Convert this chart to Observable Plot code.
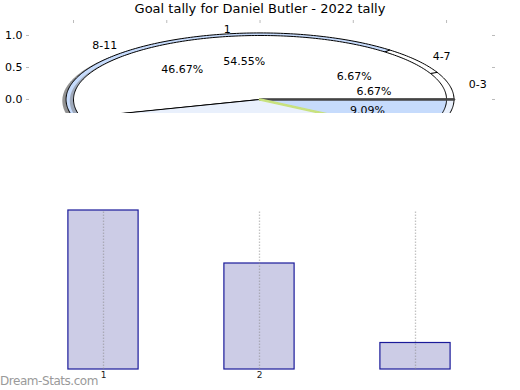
<!DOCTYPE html>
<html>
<head>
<meta charset="utf-8">
<script src="https://cdn.jsdelivr.net/npm/d3@7"></script>
<script src="https://cdn.jsdelivr.net/npm/@observablehq/plot@0.6"></script>
<style>
  body { margin: 0; background: #fff; font-family: "DejaVu Sans", sans-serif; }
  #wrap { position: relative; width: 520px; height: 390px; overflow: hidden; }
  #title { position: absolute; top: 1px; left: 0; width: 520px; text-align: center; font-size: 13px; color: #000; }
  #top { position: absolute; left: 0; top: 0; }
  #bottom { position: absolute; left: 0; top: 190px; }
  #mark { position: absolute; left: 0; top: 374px; font-size: 12px; color: #9a9a9a; letter-spacing: -0.45px; }
</style>
</head>
<body>
<div id="wrap">
  <div id="top"></div>
  <div id="bottom"></div>
  <div id="title">Goal tally for Daniel Butler - 2022 tally</div>
  <div id="mark">Dream-Stats.com</div>
</div>
<script>
// ---- data ----
const titleText = "Goal tally for Daniel Butler - 2022 tally";
// pie A: goals per game
const pieALabels = ["1", "2", "3"];
const pieAValues = [6, 4, 1];
const pieAFills = ["#ffffff", "#e9f0fc", "#c6dbfc"];
// pie B: goals by minute band
const pieBLabels = ["0-3", "4-7", "8-11", "12+"];
const pieBValues = [1, 1, 7, 6];
const pieBFills = ["#ffffff", "#ffffff", "#c6dbfc", "#e9f0fc"];
// bars
const barX = [1, 2, 3];
const barValues = [6, 4, 1];
const barTickLabels = [1, 2];

// ---- pie geometry from values ----
function wedges(values, labels, fills, r, ox = 0, oy = 0) {
  const total = d3.sum(values);
  let a = 0;
  return values.map((v, i) => {
    const a0 = a, a1 = a + (v / total) * 360;
    a = a1;
    const pts = [{x: ox, y: oy}];
    const n = Math.max(2, Math.ceil(a1 - a0));
    for (let k = 0; k <= n; k++) {
      const t = (a0 + (a1 - a0) * k / n) * Math.PI / 180;
      pts.push({x: ox + r * Math.cos(t), y: oy + r * Math.sin(t)});
    }
    const mid = (a0 + a1) / 2 * Math.PI / 180;
    return {label: labels[i], pct: (v / total * 100).toFixed(2) + "%", fill: fills[i], pts, a0, a1, mid, r};
  });
}
const rA = 1.0, rB = 1.04;
const wA = wedges(pieAValues, pieALabels, pieAFills, rA);
const wB = wedges(pieBValues, pieBLabels, pieBFills, rB);
const sA = wedges(pieAValues, pieALabels, pieAFills, rA, -0.02, -0.02);
const sB = wedges(pieBValues, pieBLabels, pieBFills, rB, -0.02, -0.02);

const marksTop = [];
const wedgeMark = (w, fill, stroke, sw, op = 1) =>
  Plot.line(w.pts, {x: "x", y: "y", curve: "linear-closed", fill, fillOpacity: op, stroke, strokeWidth: sw, clip: true});

sB.forEach(w => marksTop.push(wedgeMark(w, "#777", "none", 0, 0.8)));
wB.forEach(w => marksTop.push(wedgeMark(w, w.fill, "#000", 1)));
sA.forEach(w => marksTop.push(wedgeMark(w, "#777", "none", 0, 0.5)));
wA.forEach(w => marksTop.push(wedgeMark(w, w.fill, "#000", 1)));
// heavy start edge shared by both pies (angle 0)
marksTop.push(Plot.line([{x: 0, y: 0}, wB[0].pts[1]], {x: "x", y: "y", stroke: "#444", strokeWidth: 2.5, clip: true}));
// highlighted boundary of the last wedge of pie A
const lastA = wA[wA.length - 1];
marksTop.push(Plot.line([{x: 0, y: 0}, lastA.pts[1]], {x: "x", y: "y", stroke: "#c8e27e", strokeWidth: 2.5, clip: true}));

const labelRows = [];
[...wA, ...wB].forEach(w => {
  const lx = 1.1 * w.r * Math.cos(w.mid), ly = 1.1 * w.r * Math.sin(w.mid);
  labelRows.push({x: lx, y: ly, text: w.label, anchor: lx >= 0 ? "start" : "end"});
  labelRows.push({x: 0.6 * w.r * Math.cos(w.mid), y: 0.6 * w.r * Math.sin(w.mid), text: w.pct, anchor: "middle"});
});
["start", "end", "middle"].forEach(an => {
  marksTop.push(Plot.text(labelRows.filter(d => d.anchor === an), {x: "x", y: "y", text: "text", textAnchor: an, fontSize: 11, fill: "#000", clip: true}));
});

const yTicks = [0, 0.5, 1];
const xTicks = [-1, -0.5, 0, 0.5, 1];
marksTop.push(
  Plot.axisY({ticks: yTicks, tickSize: 3, tickPadding: 4, tickFormat: ".1f", stroke: "#bbb", fill: "#000", fontSize: 11, label: null}),
  Plot.axisY({anchor: "right", ticks: yTicks, tickSize: 3, tickFormat: () => "", stroke: "#bbb", label: null}),
  Plot.axisX({anchor: "top", ticks: xTicks, tickSize: 3, tickFormat: () => "", stroke: "#bbb", label: null})
);

const topPlot = Plot.plot({
  width: 520, height: 113,
  marginTop: 22, marginBottom: 0, marginLeft: 29, marginRight: 29,
  x: {domain: [-1.236, 1.241], axis: null, label: null},
  y: {domain: [-0.219, 1.203], axis: null, label: null},
  style: {fontFamily: "DejaVu Sans, sans-serif", fontSize: "11px", background: "transparent", overflow: "visible"},
  marks: marksTop
});
document.getElementById("top").appendChild(topPlot);

// ---- bar chart ----
const bars = barX.map((x, i) => ({x, v: barValues[i]}));
const bottomPlot = Plot.plot({
  width: 520, height: 200,
  marginTop: 20, marginBottom: 21, marginLeft: 25, marginRight: 27,
  x: {domain: [0.5, 3.5], axis: null, label: null},
  y: {domain: [0, 6], axis: null, label: null},
  style: {fontFamily: "DejaVu Sans, sans-serif", background: "transparent"},
  marks: [
    Plot.rectY(bars, {x1: d => d.x - 0.225, x2: d => d.x + 0.225, y: "v", fill: "#ccccE6", stroke: "#1a1a9a", strokeWidth: 1.2}),
    Plot.ruleX(barX, {y1: 0, y2: 6, stroke: "#888", strokeOpacity: 0.5, strokeWidth: 1.3, strokeDasharray: "1.5,1.5"}),
    Plot.axisX({ticks: barTickLabels, tickSize: 0, tickPadding: 2, tickFormat: "d", fontSize: 9, fill: "#222", label: null})
  ]
});
document.getElementById("bottom").appendChild(bottomPlot);
</script>
</body>
</html>
